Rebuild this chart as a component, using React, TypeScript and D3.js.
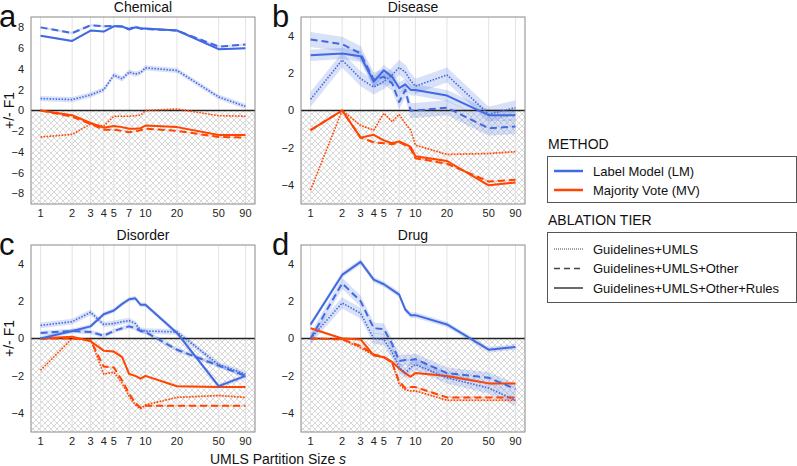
import * as d3 from "d3";

// partition sizes (x) and tick labels
const sizes = [1, 2, 3, 4, 5, 6, 7, 8, 9, 10, 20, 50, 90];
const tickSizes = [1, 2, 3, 4, 5, 7, 10, 20, 50, 90];

// Chemical
const chemLmGU = [1.15, 1.05, 1.5, 2.0, 3.4, 3.05, 3.7, 3.5, 3.65, 4.1, 3.85, 1.3, 0.4];
const chemLmGUO = [8.0, 7.45, 8.2, 8.1, 8.15, 8.05, 7.85, 8.1, 7.9, 7.85, 7.7, 6.15, 6.35];
const chemLmGUOR = [7.2, 6.7, 7.7, 7.6, 8.1, 8.1, 7.8, 8.0, 7.9, 7.9, 7.7, 5.9, 6.0];
const chemMvGU = [-2.55, -2.3, -1.3, -1.5, -0.55, -0.55, -0.55, -0.5, -0.45, 0.0, 0.15, -0.5, -0.55];
const chemMvGUO = [0.0, -0.6, -1.3, -1.85, -1.85, -1.95, -2.1, -2.0, -1.9, -1.75, -1.95, -2.55, -2.6];
const chemMvGUOR = [0.0, -0.45, -1.2, -1.65, -1.5, -1.6, -1.75, -1.75, -1.7, -1.45, -1.6, -2.35, -2.35];

// Disease
const disLmGU = [0.6, 2.7, 1.7, 1.25, 1.55, 1.9, 2.3, 2.05, 1.6, 1.3, 1.9, -0.2, 0.15];
const disLmGUO = [3.8, 3.55, 3.05, 1.65, 1.8, 1.45, 0.45, 1.1, 0.0, 0.0, 0.15, -0.95, -0.85];
const disLmGUOR = [2.95, 3.05, 2.9, 1.55, 2.15, 1.8, 1.2, 1.4, 1.1, 1.1, 0.8, -0.25, -0.25];
const disMvGU = [-4.25, 0.0, -0.8, -1.05, -0.15, -0.6, -0.2, -0.7, -1.05, -1.85, -2.35, -2.3, -2.2];
const disMvGUO = [-1.05, 0.0, -1.45, -1.7, -1.75, -1.8, -1.7, -1.85, -2.05, -2.55, -2.85, -3.8, -3.7];
const disMvGUOR = [-1.05, 0.0, -1.45, -1.3, -1.6, -1.75, -1.65, -1.8, -1.95, -2.45, -2.7, -4.0, -3.85];

// Disorder
const dsoLmGU = [0.7, 0.9, 1.4, 0.75, 0.8, 0.9, 0.95, 0.8, 0.45, 0.4, 0.35, -1.4, -1.9];
const dsoLmGUO = [0.3, 0.4, 0.35, 0.15, 0.4, 0.55, 0.65, 0.55, 0.4, 0.35, -0.6, -1.45, -2.0];
const dsoLmGUOR = [0.0, 0.4, 0.65, 1.3, 1.5, 1.85, 2.1, 2.15, 1.8, 1.8, 0.3, -2.55, -2.0];
const dsoMvGU = [-1.7, 0.0, -0.05, -1.9, -1.8, -2.4, -3.1, -3.55, -3.75, -3.55, -3.15, -3.05, -3.15];
const dsoMvGUO = [0.0, 0.0, -0.1, -1.5, -1.55, -2.25, -2.95, -3.45, -3.7, -3.6, -3.6, -3.6, -3.6];
const dsoMvGUOR = [0.0, 0.1, -0.15, -0.65, -0.7, -1.0, -1.9, -2.0, -2.15, -2.0, -2.55, -2.6, -2.6];

// Drug
const drgLmGU = [0.0, 1.9, 1.35, 0.0, -0.05, -0.75, -1.55, -1.85, -1.55, -1.4, -2.1, -2.65, -3.3];
const drgLmGUO = [0.0, 2.95, 2.0, 0.55, 0.5, -0.3, -1.2, -1.15, -1.15, -1.1, -1.85, -2.1, -2.7];
const drgLmGUOR = [0.75, 3.4, 4.1, 3.15, 2.9, 2.6, 2.35, 1.55, 1.25, 1.25, 0.75, -0.6, -0.45];
const drgMvGU = [0.0, -0.05, -0.5, -0.9, -1.0, -1.3, -2.45, -2.75, -2.8, -2.8, -3.3, -3.3, -3.3];
const drgMvGUO = [0.0, -0.05, -0.4, -0.85, -1.0, -1.3, -2.3, -2.65, -2.6, -2.6, -3.15, -3.15, -3.15];
const drgMvGUOR = [0.55, 0.0, -0.05, -0.9, -1.0, -1.25, -1.6, -1.85, -2.05, -1.85, -2.0, -2.4, -2.4];

// confidence half-widths, [GU, GUO, GUOR]
const chemBand = [0.25, 0.1, 0.1];
const disBand = [0.4, 0.4, 0.3];
const dsoBand = [0.15, 0.12, 0.12];
const drgBand = [0.3, 0.3, 0.15];
const mvBand = 0.05;

const BLUE = "#4169e1";
const RED = "#ff4500";
const FONT = "'Liberation Sans', Arial, sans-serif";
const tierDash = ["1.5,1.5", "7,4", null];
const tierWidth = [1.6, 2, 2];

const panels = [
  { letter: "a", title: "Chemical", left: 31, top: 17, ylim: 9, ticks: [-8, -6, -4, -2, 0, 2, 4, 6, 8], ylabel: true,
    lm: [chemLmGU, chemLmGUO, chemLmGUOR], mv: [chemMvGU, chemMvGUO, chemMvGUOR], band: chemBand },
  { letter: "b", title: "Disease", left: 301, top: 17, ylim: 5, ticks: [-4, -2, 0, 2, 4], ylabel: false,
    lm: [disLmGU, disLmGUO, disLmGUOR], mv: [disMvGU, disMvGUO, disMvGUOR], band: disBand },
  { letter: "c", title: "Disorder", left: 31, top: 245, ylim: 5, ticks: [-4, -2, 0, 2, 4], ylabel: true,
    lm: [dsoLmGU, dsoLmGUO, dsoLmGUOR], mv: [dsoMvGU, dsoMvGUO, dsoMvGUOR], band: dsoBand },
  { letter: "d", title: "Drug", left: 301, top: 245, ylim: 5, ticks: [-4, -2, 0, 2, 4], ylabel: false,
    lm: [drgLmGU, drgLmGUO, drgLmGUOR], mv: [drgMvGU, drgMvGUO, drgMvGUOR], band: drgBand },
];

const W = 224;
const H = 187;

function Panel({ p, idx }) {
  const x = d3.scaleLog().domain([0.81, 111]).range([p.left, p.left + W]);
  const y = d3.scaleLinear().domain([-p.ylim, p.ylim]).range([p.top + H, p.top]);
  const line = d3
    .line<number>()
    .x((_, i) => x(sizes[i]))
    .y((v) => y(v));
  const area = (vals: number[], hw: number) =>
    d3
      .area<number>()
      .x((_, i) => x(sizes[i]))
      .y0((v) => y(v - hw))
      .y1((v) => y(v + hw))(vals);
  const clipId = `clip${idx}`;
  return (
    <g>
      <defs>
        <clipPath id={clipId}>
          <rect x={p.left} y={p.top} width={W} height={H} />
        </clipPath>
      </defs>
      <rect x={p.left} y={y(0)} width={W} height={p.top + H - y(0)} fill="url(#hatch)" />
      {tickSizes.map((s) => (
        <line key={s} x1={x(s)} x2={x(s)} y1={p.top} y2={p.top + H} stroke="#e3e3e3" strokeWidth={1} />
      ))}
      <g clipPath={`url(#${clipId})`}>
        {p.lm.map((vals, t) => (
          <path key={"lb" + t} d={area(vals, p.band[t])} fill={BLUE} fillOpacity={0.2} />
        ))}
        {p.mv.map((vals, t) => (
          <path key={"mb" + t} d={area(vals, mvBand)} fill={RED} fillOpacity={0.2} />
        ))}
        <line x1={p.left} x2={p.left + W} y1={y(0)} y2={y(0)} stroke="#222" strokeWidth={1.5} />
        {p.mv.map((vals, t) => (
          <path key={"m" + t} d={line(vals)} fill="none" stroke={RED} strokeWidth={tierWidth[t]}
            strokeDasharray={tierDash[t] ?? undefined} strokeLinejoin="round" />
        ))}
        {p.lm.map((vals, t) => (
          <path key={"l" + t} d={line(vals)} fill="none" stroke={BLUE} strokeWidth={tierWidth[t]}
            strokeDasharray={tierDash[t] ?? undefined} strokeLinejoin="round" />
        ))}
      </g>
      <rect x={p.left} y={p.top} width={W} height={H} fill="none" stroke="#8a8a8a" strokeWidth={1} />
      {p.ticks.map((t) => (
        <text key={t} x={p.left - 7} y={y(t)} dy="0.35em" textAnchor="end" fontSize={11} fill="#222">
          {t < 0 ? `\u2212${-t}` : t}
        </text>
      ))}
      {tickSizes.map((s) => (
        <text key={s} x={x(s)} y={p.top + H + 13} textAnchor="middle" fontSize={11} fill="#222">
          {s}
        </text>
      ))}
      <text x={p.left + W / 2} y={p.top - 5} textAnchor="middle" fontSize={14} fill="#111">
        {p.title}
      </text>
      <text x={p.left - 32 + (p.left > 100 ? 3 : 0)} y={p.top + 10} fontSize={31} fill="#111">
        {p.letter}
      </text>
      {p.ylabel && (
        <text transform={`translate(${p.left - 17},${p.top + H / 2}) rotate(-90)`} textAnchor="middle"
          fontSize={14} fill="#111">
          +/- F1
        </text>
      )}
    </g>
  );
}

export default function App() {
  const legendTiers = ["Guidelines+UMLS", "Guidelines+UMLS+Other", "Guidelines+UMLS+Other+Rules"];
  return (
    <svg width={797} height={466} style={{ position: "absolute", left: 0, top: 0, fontFamily: FONT }}>
      <defs>
        <pattern id="hatch" width={6} height={6} patternUnits="userSpaceOnUse">
          <rect width={6} height={6} fill="#fff" />
          <path d="M0,0 L6,6 M6,0 L0,6" stroke="#cfcfcf" strokeWidth={0.8} />
        </pattern>
      </defs>
      {panels.map((p, i) => (
        <Panel key={p.letter} p={p} idx={i} />
      ))}
      <text x={278} y={464} textAnchor="middle" fontSize={14} fill="#111">
        UMLS Partition Size <tspan fontStyle="italic">s</tspan>
      </text>

      <text x={548} y={149} fontSize={14} fill="#111">METHOD</text>
      <rect x={547.5} y={156.5} width={249} height={46} fill="none" stroke="#555" strokeWidth={1} />
      {[["Label Model (LM)", BLUE], ["Majority Vote (MV)", RED]].map(([label, c], i) => (
        <g key={label}>
          <line x1={554} x2={583} y1={171 + i * 19} y2={171 + i * 19} stroke={c} strokeWidth={2.5} />
          <text x={593} y={171 + i * 19} dy="0.35em" fontSize={13} fill="#111">{label}</text>
        </g>
      ))}
      <text x={548} y={225} fontSize={14} fill="#111">ABLATION TIER</text>
      <rect x={547.5} y={232.5} width={249} height={70} fill="none" stroke="#555" strokeWidth={1} />
      {legendTiers.map((label, i) => (
        <g key={label}>
          <line x1={554} x2={583} y1={249 + i * 19.5} y2={249 + i * 19.5} stroke="#444"
            strokeWidth={i === 0 ? 1.2 : 1.6} strokeDasharray={i === 0 ? "1,1" : i === 1 ? "6,4" : undefined} />
          <text x={593} y={249 + i * 19.5} dy="0.35em" fontSize={13} fill="#111">{label}</text>
        </g>
      ))}
    </svg>
  );
}
